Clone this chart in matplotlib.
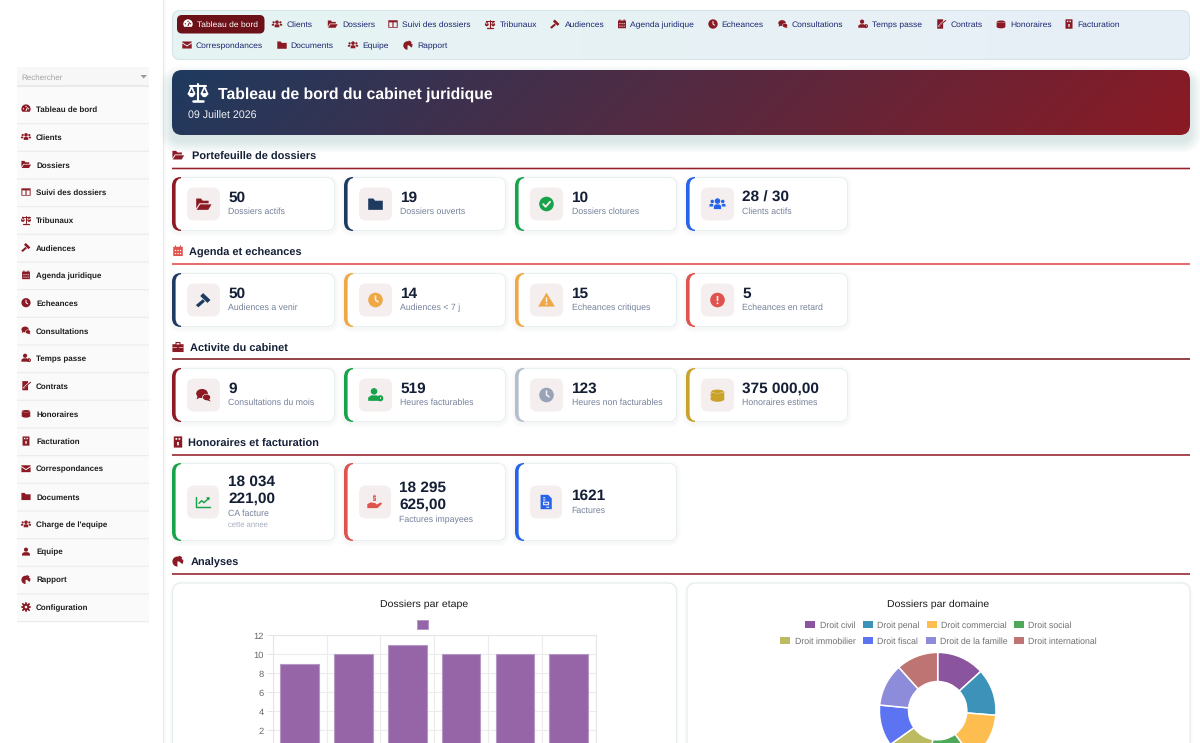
import numpy as np
import matplotlib
matplotlib.use("Agg")
import matplotlib.pyplot as plt
from matplotlib.patches import FancyBboxPatch, Circle, Polygon, Rectangle, Ellipse, Wedge

plt.rcParams['font.family'] = ['Liberation Sans', 'DejaVu Sans']
plt.rcParams['text.hinting'] = 'no_hinting'

# ---------- data ----------
stage_values = [9, 10, 11, 10, 10, 10]
y_ticks = [2, 4, 6, 8, 10, 12]
domain_names = ["Droit civil", "Droit penal", "Droit commercial", "Droit social",
                "Droit immobilier", "Droit fiscal", "Droit de la famille", "Droit international"]
domain_values = [6.6, 6.5, 6.8, 6.4, 6.2, 5.7, 5.9, 5.8]
domain_colors = ["#8a549f", "#3c92b8", "#fdbd4f", "#4ea85a", "#bdbb62", "#5c73f2", "#8d8cdb", "#bd7472"]

side_items = ["Tableau de bord", "Clients", "Dossiers", "Suivi des dossiers", "Tribunaux", "Audiences",
              "Agenda juridique", "Echeances", "Consultations", "Temps passe", "Contrats", "Honoraires",
              "Facturation", "Correspondances", "Documents", "Charge de l'equipe", "Equipe", "Rapport",
              "Configuration"]
side_icons = ["gauge", "users", "folder_open", "columns", "scales", "gavel", "calendar", "clock", "comments",
              "user_clock", "contract", "coins", "invoice", "envelope", "folder", "users", "user", "pie", "gear"]

nav_row1 = ["Clients", "Dossiers", "Suivi des dossiers", "Tribunaux", "Audiences", "Agenda juridique",
            "Echeances", "Consultations", "Temps passe", "Contrats", "Honoraires", "Facturation"]
nav_row1_icons = ["users", "folder_open", "columns", "scales", "gavel", "calendar", "clock", "comments",
                  "user_clock", "contract", "coins", "invoice"]
nav_row2 = ["Correspondances", "Documents", "Equipe", "Rapport"]
nav_row2_icons = ["envelope", "folder", "users", "pie"]

sec_titles = ["Portefeuille de dossiers", "Agenda et echeances", "Activite du cabinet",
              "Honoraires et facturation", "Analyses"]
sec_icons = ["folder_open", "calendar", "briefcase", "invoice", "pie"]

row1_vals = ["50", "19", "10", "28 / 30"]
row1_labs = ["Dossiers actifs", "Dossiers ouverts", "Dossiers clotures", "Clients actifs"]
row1_icons = ["folder_open", "folder", "check", "users"]
row2_vals = ["50", "14", "15", "5"]
row2_labs = ["Audiences a venir", "Audiences < 7 j", "Echeances critiques", "Echeances en retard"]
row2_icons = ["gavel", "clock", "warning", "exclaim"]
row3_vals = ["9", "519", "123", "375 000,00"]
row3_labs = ["Consultations du mois", "Heures facturables", "Heures non facturables", "Honoraires estimes"]
row3_icons = ["comments", "user_clock", "clock", "coins"]

# ---------- layout / style ----------
RED, NAVY, GREEN, BLUE = "#8b1a24", "#1e3a5f", "#16a34a", "#2563eb"
ORANGE, CORAL, SLATE, GOLD = "#f0a844", "#e0524d", "#b4bdcd", "#c9a227"
row1_cols = [RED, NAVY, GREEN, BLUE]
row2_cols = [NAVY, ORANGE, ORANGE, CORAL]
row3_cols = [RED, GREEN, SLATE, GOLD]
row3_icol = [RED, GREEN, "#98a3b8", GOLD]
row4_cols = [GREEN, CORAL, BLUE]
card_x = [(172, 335), (344, 506), (515, 677), (686, 848)]
LAB = "#75819a"
VAL = "#141f36"
BOXBG = "#f4eeef"
VAL_PX, LAB_PX = 15.35, 8.75

W, H = 1200, 743
fig = plt.figure(figsize=(W / 100, H / 100), dpi=100, facecolor="white")
ax = fig.add_axes([0, 0, 1, 1], zorder=0)
ax.set_xlim(0, W); ax.set_ylim(H, 0); ax.axis("off")


def pt(px):
    return px * 0.72


def T(x, y, s, px, color="#222", weight="normal", ha="left", va="center_baseline", z=8):
    return ax.text(x, y, s, fontsize=pt(px), color=color, fontweight=weight, ha=ha, va=va, zorder=z)


def RR(x0, y0, x1, y1, r, fc, ec="none", lw=0, alpha=None, z=2):
    p = FancyBboxPatch((x0, y0), x1 - x0, y1 - y0, boxstyle=f"round,pad=0,rounding_size={r}",
                       fc=fc, ec=ec, lw=lw, alpha=alpha, zorder=z)
    ax.add_patch(p)
    return p


def icon(kind, cx, cy, s, c, bg="white", z=7):
    """Small vector pictogram; s is half its size in pixels."""
    def P(pts, col=c):
        ax.add_patch(Polygon([(cx + a * s, cy + b * s) for a, b in pts], closed=True, fc=col, ec="none", zorder=z))
    def C(a, b, r, col=c):
        ax.add_patch(Circle((cx + a * s, cy + b * s), r * s, fc=col, ec="none", zorder=z))
    def E(a, b, w, h, col=c):
        ax.add_patch(Ellipse((cx + a * s, cy + b * s), w * s, h * s, fc=col, ec="none", zorder=z))
    def R(a, b, w, h, col=c):
        ax.add_patch(Rectangle((cx + a * s, cy + b * s), w * s, h * s, fc=col, ec="none", zorder=z, snap=False))
    def L(pts, col=c, lw=1.0):
        ax.plot([cx + a * s for a, b in pts], [cy + b * s for a, b in pts], color=col, lw=lw, zorder=z,
                solid_capstyle="round", solid_joinstyle="round")
    lw = max(0.7, s * 0.16)
    if kind == "folder":
        P([(-1, -.75), (-.3, -.75), (-.05, -.45), (1, -.45), (1, .8), (-1, .8)])
    elif kind == "folder_open":
        P([(-1, -.75), (-.35, -.75), (-.1, -.45), (.7, -.45), (.7, -.1), (-.55, -.1), (-1, .6)])
        P([(-.45, .05), (1.1, .05), (.65, .8), (-.95, .8)])
    elif kind == "check":
        C(0, 0, 1)
        L([(-.45, .02), (-.12, .38), (.48, -.3)], bg, lw * 1.2)
    elif kind == "exclaim":
        C(0, 0, 1)
        R(-.11, -.55, .22, .7, bg); C(0, .45, .13, bg)
    elif kind == "clock":
        C(0, 0, 1)
        L([(0, -.55), (0, 0), (.35, .25)], bg, lw)
    elif kind == "warning":
        P([(0, -1), (1.15, .9), (-1.15, .9)])
        R(-.1, -.35, .2, .65, bg); C(0, .55, .13, bg)
    elif kind == "users":
        C(0, -.4, .38); C(-.72, -.35, .24); C(.72, -.35, .24)
        P([(-.5, .7), (-.5, .25), (-.25, .05), (.25, .05), (.5, .25), (.5, .7)])
        P([(-1.1, .35), (-1.1, .05), (-.85, -.05), (-.55, .05), (-.65, .35)])
        P([(1.1, .35), (1.1, .05), (.85, -.05), (.55, .05), (.65, .35)])
    elif kind == "user":
        C(0, -.45, .45)
        P([(-.85, .85), (-.85, .4), (-.45, .1), (.45, .1), (.85, .4), (.85, .85)])
    elif kind == "user_clock":
        C(-.2, -.5, .45)
        P([(-1, .8), (-1, .35), (-.6, .05), (.2, .05), (.45, .35), (.45, .8)])
        C(.65, .45, .42); L([(.65, .25), (.65, .47)], bg, lw * .6)
    elif kind == "gavel":
        P([(-.05, -.95), (.95, .0), (.55, .4), (-.45, -.55)])
        P([(-.1, -.1), (.2, .2), (-.7, 1.0), (-1.05, .7)])
    elif kind == "comments":
        E(-.2, -.2, 1.6, 1.25); P([(-.8, .1), (-.95, .6), (-.4, .3)])
        E(.42, .32, 1.2, .95, bg); E(.42, .32, 1.0, .78); P([(.7, .5), (1.0, .9), (.3, .65)])
    elif kind == "calendar":
        R(-.85, -.75, 1.7, 1.65)
        R(-.55, -1, .2, .4); R(.35, -1, .2, .4)
        for a in (-.55, -.1, .35):
            for b in (-.2, .35):
                R(a, b, .22, .22, bg)
    elif kind == "columns":
        R(-1, -.8, 2, 1.6); R(-.8, -.35, .68, 1, bg); R(.12, -.35, .68, 1, bg)
    elif kind == "scales":
        L([(0, -.9), (0, .8)], c, lw); L([(-.55, .85), (.55, .85)], c, lw * 1.2)
        L([(-.8, -.65), (.8, -.65)], c, lw)
        L([(-1, .15), (-.68, -.6), (-.35, .15), (-1, .15)], c, lw * .8)
        L([(1, .15), (.68, -.6), (.35, .15), (1, .15)], c, lw * .8)
        ax.add_patch(Wedge((cx - .68 * s, cy + .15 * s), .34 * s, 0, 180, fc=c, ec="none", zorder=z))
        ax.add_patch(Wedge((cx + .68 * s, cy + .15 * s), .34 * s, 0, 180, fc=c, ec="none", zorder=z))
    elif kind == "gauge":
        C(0, 0, 1)
        R(-1, .6, 2, .5, bg)
        C(-.55, -.05, .14, bg); C(.55, -.05, .14, bg); C(0, -.55, .14, bg)
        L([(0, .35), (.3, -.3)], bg, lw)
    elif kind == "contract":
        R(-.8, -1, 1.25, 2); L([(-.45, .45), (.1, -.1), (.9, -.8)], bg, lw * 1.5)
        L([(-.3, .4), (.1, .0), (1, -.75)], c, lw)
    elif kind == "coins":
        for b in (.55, .1, -.35):
            E(0, b, 1.9, .75); E(0, b - .16, 1.9, .55, bg if b == -.35 else c)
        E(0, -.5, 1.7, .45)
    elif kind == "invoice":
        R(-.75, -1, 1.5, 2)
        R(-.45, -.7, .3, .3, bg); R(.1, -.7, .3, .3, bg); R(-.15, .0, .3, .6, bg)
    elif kind == "file":
        P([(-.75, -1), (.3, -1), (.8, -.5), (.8, 1), (-.75, 1)])
        R(-.4, -.65, .3, .15, bg); R(-.4, -.35, .3, .15, bg)
        R(-.42, -.05, .85, .5, bg); R(-.25, .1, .5, .2, c); R(.05, .65, .4, .15, bg)
    elif kind == "envelope":
        R(-1, -.75, 2, 1.5); L([(-1, -.45), (0, .2), (1, -.45)], bg, lw * .9)
    elif kind == "pie":
        ax.add_patch(Wedge((cx - .1 * s, cy + .1 * s), .9 * s, -270, -10, fc=c, ec="none", zorder=z))
        ax.add_patch(Wedge((cx + .05 * s, cy - .1 * s), .85 * s, -85, -30, fc=c, ec="none", zorder=z))
        ax.add_patch(Wedge((cx + .1 * s, cy + .0 * s), .85 * s, -20, 40, fc=c, ec="none", zorder=z))
    elif kind == "briefcase":
        R(-1, -.5, 2, 1.4); R(-.45, -.9, .9, .5); R(-.25, -.7, .5, .25, bg)
        R(-1, .05, 2, .1, bg); R(-.15, -.02, .3, .25, c)
    elif kind == "gear":
        for a in np.arange(0, 180, 45):
            t = np.deg2rad(a); u, v = np.cos(t), np.sin(t)
            L([(-u * .95, -v * .95), (u * .95, v * .95)], c, lw * 1.8)
        C(0, 0, .72); C(0, 0, .28, bg)
    elif kind == "chart":
        L([(-1, -.8), (-1, .8), (1, .8)], c, lw)
        L([(-.6, .2), (-.2, -.2), (.15, .1), (.85, -.55)], c, lw)
        P([(.45, -.7), (1, -.75), (.95, -.2)])
    elif kind == "hand":
        P([(-1, .3), (-.55, .05), (.1, .15), (.3, .35), (.9, .05), (1.05, .25), (.4, .85), (-1, .85)])
        R(-.14, -1, .28, .12); R(-.2, -.85, .4, .7)
        R(-.08, -.7, .28, .1, bg); R(-.2, -.45, .28, .1, bg)


# ---------- sidebar ----------
ax.add_patch(Rectangle((163, 0), 1, H, fc="#e8e8e8", ec="none", zorder=1))
ax.add_patch(Rectangle((164, 0), 2, H, fc="#f9f9f9", ec="none", zorder=1))
ax.add_patch(Rectangle((17, 67), 132, 19, fc="#f7f7f7", ec="none", zorder=1))
ax.add_patch(Rectangle((17, 85), 132, 1.5, fc="#e9e9e9", ec="none", zorder=1))
ax.add_patch(Rectangle((17, 87), 132, 535, fc="#fafafa", ec="none", zorder=1))
T(21.5, 76.7, "Rechercher", 8.0, color="#a3a3a3")
ax.add_patch(Polygon([(140.5, 75), (147, 75), (143.7, 78.5)], fc="#999999", ec="none", zorder=3))
for i, (name, ic) in enumerate(zip(side_items, side_icons)):
    y = 109 + i * 27.67
    icon(ic, 26, y, 4.6, RED, bg="#fafafa")
    T(36, y + .2, name, 8.0, color="#1d1d1d", weight="bold")
    ax.add_patch(Rectangle((17, y + 14), 132, 1.2, fc="#ececec", ec="none", zorder=2, snap=False))

# ---------- top nav ----------
nav = RR(172.5, 10.5, 1189.5, 59.5, 8, "none", ec="#d6e6e8", lw=0.8, z=3)
grad = np.linspace(0, 1, 256)[None, :, None]
c0, c1 = np.array([230, 244, 243]) / 255, np.array([232, 239, 247]) / 255
im = ax.imshow(c0 + (c1 - c0) * grad, extent=(172, 1190, 60, 10), aspect="auto", zorder=2)
clip = RR(172, 10, 1190, 60, 8, "none", z=1)
im.set_clip_path(clip)
RR(177, 15, 264.5, 33.5, 5, "#6d1119", z=3)
icon("gauge", 188, 24, 4.7, "white", bg="#6d1119")
NAV_PX = 8.5
T(197, 24.2, "Tableau de bord", NAV_PX, color="white")
NAVT = "#1a2670"
for name, ic, ix, tx in zip(nav_row1, nav_row1_icons,
                            [277, 332.5, 393, 490, 555, 622, 713, 783, 863, 941, 1001, 1069],
                            [287, 342, 402.5, 500, 564.5, 630.5, 721.5, 792, 872.5, 951, 1010.5, 1077.5]):
    icon(ic, ix, 24, 4.7, RED, bg="#e7f2f3")
    T(tx, 24.2, name, NAV_PX, color=NAVT)
for name, ic, ix, tx in zip(nav_row2, nav_row2_icons, [187, 282, 353, 408], [196, 290.5, 362.5, 417]):
    icon(ic, ix, 45, 4.7, RED, bg="#e7f2f3")
    T(tx, 45.1, name, NAV_PX, color=NAVT)

# ---------- banner ----------
for k in range(1, 13):
    RR(172 - k, 72 - k + 6, 1190 + k, 135 + k + 6, 10 + k, "#1b5560", alpha=0.012, z=1)
xx, yy = np.meshgrid(np.linspace(0, 1018, 512), np.linspace(0, 65, 32))
t = ((xx + yy) / (1018 + 65))[:, :, None]
b0, b1 = np.array([30, 58, 95]) / 255, np.array([139, 26, 36]) / 255
im2 = ax.imshow(b0 + (b1 - b0) * t, extent=(172, 1190, 135, 70), aspect="auto", zorder=3)
clip2 = RR(172, 70, 1190, 135, 10, "none", z=1)
im2.set_clip_path(clip2)
ax.set_xlim(0, W); ax.set_ylim(H, 0)
icon("scales", 198, 92.5, 9.5, "white", bg="#24385a")
T(218, 92.4, "Tableau de bord du cabinet juridique", 15.75, color="white", weight="bold")
T(188, 115.3, "09 Juillet 2026", 10.6, color="#f2f2f2")

# ---------- section headers ----------
sec_y = [155, 251, 347, 442, 561]
sec_line = [168.5, 264, 359, 455, 574]
sec_tx = [192, 189, 190, 188, 191]
sec_lc = ["#96202c", "#e2484a", "#7d1a22", "#96202c", "#96202c"]
sec_ic = [RED, CORAL, RED, RED, RED]
for name, ic, y, ly, tx, lc, icc in zip(sec_titles, sec_icons, sec_y, sec_line, sec_tx, sec_lc, sec_ic):
    icon(ic, 178, y, 5.6, icc)
    T(tx, y + .8, name, 10.95, color=VAL, weight="bold")
    ax.add_patch(Rectangle((172, ly - .8), 1018, 1.6, fc=lc, ec="none", zorder=3, snap=False))


def card(x0, x1, y0, y1, col):
    for k in range(1, 5):
        RR(x0 - k, y0 - k + 1.5, x1 + k, y1 + k + 1.5, 9 + k, "#6a8f92", alpha=0.012, z=1)
    RR(x0, y0, x1, y1, 9, "#e3ecec", z=2)
    outer = RR(x0, y0, x1, y1, 9, col, z=3)
    outer.set_clip_path(Rectangle((x0, y0), 9, y1 - y0, transform=ax.transData))
    RR(x0 + 3.6, y0 + .8, x1 - .8, y1 - .8, 8, "white", z=4)


def stat(i, y0, y1, val, lab, col, ic, icol):
    x0, x1 = card_x[i]
    card(x0, x1, y0, y1, col)
    ym = (y0 + y1) / 2
    RR(x0 + 15, ym - 16.5, x0 + 48, ym + 16.5, 7, BOXBG, z=5)
    icon(ic, x0 + 31.5, ym, 7.3, icol, bg=BOXBG)
    T(x0 + 56.5, ym - 7.5, val, VAL_PX, color=VAL, weight="bold")
    T(x0 + 56.5, ym + 7, lab, LAB_PX, color=LAB)


for i in range(4):
    stat(i, 177, 231, row1_vals[i], row1_labs[i], row1_cols[i], row1_icons[i], row1_cols[i])
    stat(i, 273, 327, row2_vals[i], row2_labs[i], row2_cols[i], row2_icons[i], row2_cols[i])
    stat(i, 368, 422, row3_vals[i], row3_labs[i], row3_cols[i], row3_icons[i], row3_icol[i])

# row 4 (taller cards)
y0r, y1r = 463, 541
for i, col in enumerate(row4_cols):
    card(card_x[i][0], card_x[i][1], y0r, y1r, col)
    RR(card_x[i][0] + 15, 485.5, card_x[i][0] + 47, 518.5, 7, BOXBG, z=5)
icon("chart", 203, 502, 6.6, GREEN, bg=BOXBG)
icon("hand", 374.5, 502, 7.2, CORAL, bg=BOXBG)
icon("file", 546, 502, 7.2, BLUE, bg=BOXBG)
T(228, 480.6, "18 034", VAL_PX, color=VAL, weight="bold")
T(228, 497.1, "221,00", VAL_PX, color=VAL, weight="bold")
T(228, 512.6, "CA facture", LAB_PX, color=LAB)
T(228, 524.5, "cette annee", 7.6, color="#a5afc0")
T(399, 486.6, "18 295", VAL_PX, color=VAL, weight="bold")
T(399, 503, "625,00", VAL_PX, color=VAL, weight="bold")
T(399, 518.5, "Factures impayees", LAB_PX, color=LAB)
T(571, 494.6, "1621", VAL_PX, color=VAL, weight="bold")
T(571, 510, "Factures", LAB_PX, color=LAB)

# ---------- chart cards ----------
for x0, x1 in [(172.5, 676.5), (687, 1190)]:
    for k in range(1, 4):
        RR(x0 - k, 583 - k + 1, x1 + k, 770, 9 + k, "#6a8f92", alpha=0.01, z=1)
    RR(x0, 583, x1, 770, 9, "white", ec="#e3ecec", lw=0.8, z=2)
T(424, 603.3, "Dossiers par etape", 10.5, color="#1a1a1a", ha="center")
T(938, 603.3, "Dossiers par domaine", 10.5, color="#1a1a1a", ha="center")

BARC, BARE = "#9565a8", "#b698c4"
ax.add_patch(Rectangle((416.5, 619.5), 11.5, 9.5, fc=BARC, ec=BARE, lw=0.7, zorder=5))

# bar chart: own axes (its zero line runs just below the page edge)
bx = fig.add_axes([272.7 / W, (H - 749.3) / H, 323 / W, 114 / H], zorder=2, facecolor="none")
pos = np.arange(len(stage_values)) + 0.5
bx.bar(pos, stage_values, width=0.72, color=BARC, edgecolor=BARE, linewidth=0.8, zorder=3)
bx.set_xlim(0, len(stage_values)); bx.set_ylim(0, 12)
bx.set_yticks(y_ticks)
bx.set_xticks(np.arange(len(stage_values) + 1)); bx.set_xticklabels([])
bx.grid(True, color="#ececec", lw=0.8, zorder=0)
bx.tick_params(axis="y", length=pt(6), width=0.7, color="#e6e6e6", pad=pt(2.5), labelsize=pt(9.4), labelcolor="#666666")
bx.tick_params(axis="x", length=0)
for sp in bx.spines.values():
    sp.set_color("#e6e6e6"); sp.set_linewidth(0.8)

# doughnut
R_PX = 58.3
px_ax = fig.add_axes([(937.7 - R_PX) / W, (H - 710.7 - R_PX) / H, 2 * R_PX / W, 2 * R_PX / H], zorder=2)
px_ax.pie(domain_values, colors=domain_colors, startangle=90, counterclock=False, radius=1,
          wedgeprops=dict(width=0.5, edgecolor="white", linewidth=1.1))
px_ax.set_xlim(-1.0, 1.0); px_ax.set_ylim(-1.0, 1.0); px_ax.axis("off")
for w in px_ax.patches:
    w.set_clip_on(False)

leg_sq = [805, 863, 927, 1014, 780, 863, 926, 1014]
leg_tx = [820, 877, 941, 1028, 795, 877, 940, 1028]
leg_y = [624.3] * 4 + [640] * 4
for name, col, sx, tx, y in zip(domain_names, domain_colors, leg_sq, leg_tx, leg_y):
    ax.add_patch(Rectangle((sx, y - 3.5), 9.5, 7, fc=col, ec="none", zorder=5))
    T(tx, y + .3, name, 8.75, color="#6f6f6f")

fig.savefig("out.png", dpi=100)
